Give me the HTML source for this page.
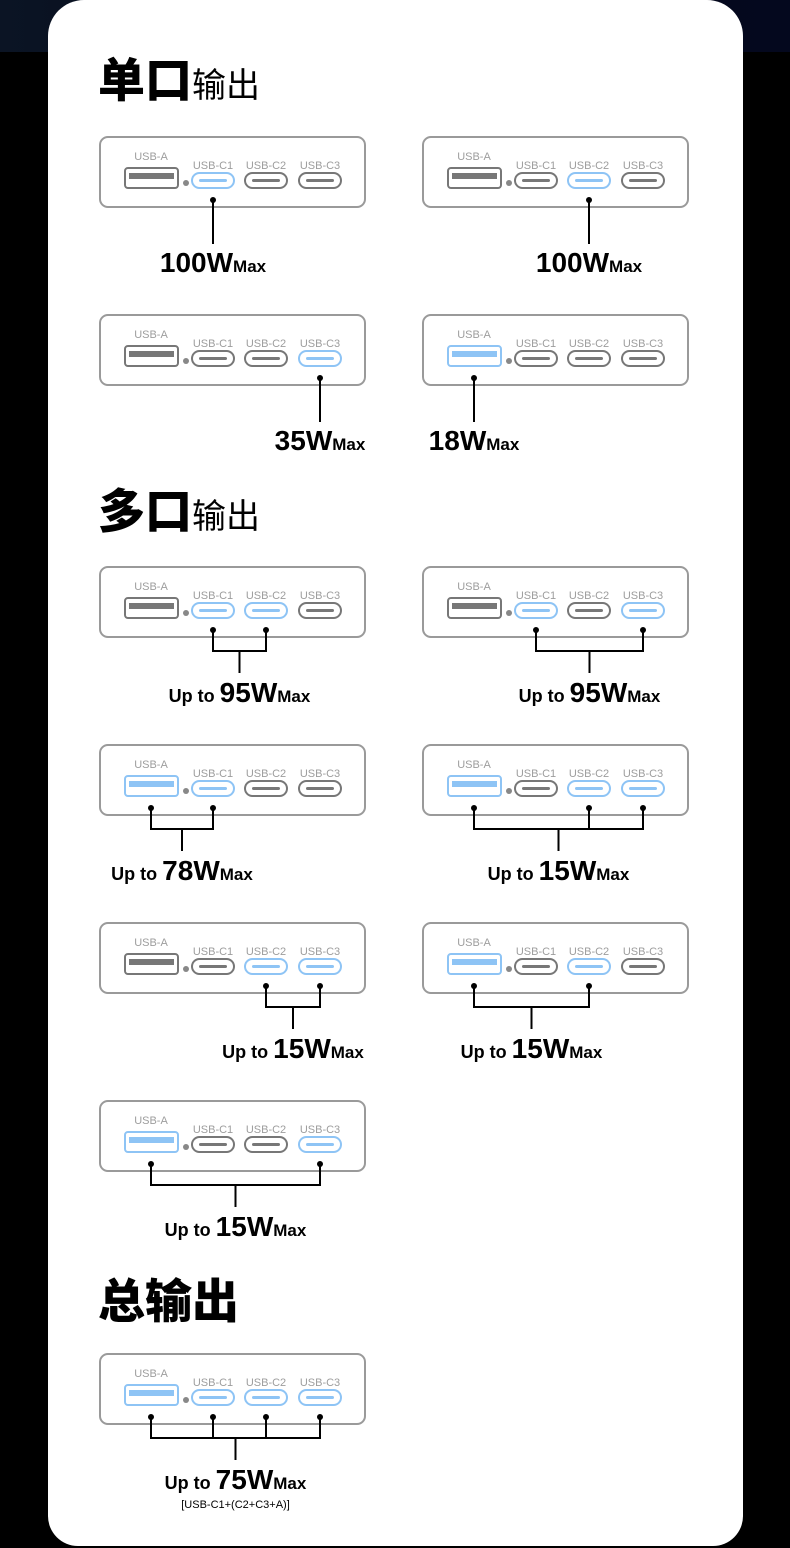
<!DOCTYPE html>
<html><head><meta charset="utf-8">
<style>
html,body{margin:0;padding:0;width:790px;height:1548px;overflow:hidden;background:#000;}
.bg{position:absolute;left:0;top:0;width:790px;height:52px;background:linear-gradient(90deg,#0b1424,#020818 50%,#04081e);}
.card{position:absolute;left:48px;top:0;width:695px;height:1546px;background:#fff;border-radius:36px 36px 30px 30px;}
svg{position:absolute;left:0;top:0;}
.h{font-family:"Liberation Sans","Noto Sans CJK SC",sans-serif;fill:#000;}
</style></head><body>
<div class="bg"></div><div class="card"></div>
<svg id="s" width="790" height="1548" xmlns="http://www.w3.org/2000/svg">
<text class="h" x="98" y="97" font-size="47" font-weight="900">单口<tspan font-size="34" font-weight="400">输出</tspan></text>
<text class="h" x="98" y="528" font-size="47" font-weight="900">多口<tspan font-size="34" font-weight="400">输出</tspan></text>
<text class="h" x="98" y="1318" font-size="47" font-weight="900">总输出</text>
</svg>
<script>
const s=document.getElementById('s');const NS='http://www.w3.org/2000/svg';
function el(t,a,txt){const e=document.createElementNS(NS,t);for(const k in a)e.setAttribute(k,a[k]);if(txt!=null)e.textContent=txt;s.appendChild(e);return e;}
const BL='#8ec4f5',GR='#777';
const PX={A:52,C1:114,C2:167,C3:221};
function box(bx,by,act){
 el('rect',{x:bx+1,y:by+1,width:265,height:70,rx:8,fill:'#fff',stroke:'#9a9a9a','stroke-width':2});
 const f='font-family:"Liberation Sans",sans-serif;font-size:11px;fill:#9d9d9d';
 el('text',{x:bx+52,y:by+24,'text-anchor':'middle',style:f},'USB-A');
 let a=act.includes('A');
 el('rect',{x:bx+26,y:by+32,width:53,height:20,rx:3,fill:'#fff',stroke:a?BL:GR,'stroke-width':2});
 el('rect',{x:bx+30,y:by+37,width:45,height:6,fill:a?BL:GR});
 el('circle',{cx:bx+87,cy:by+47,r:3,fill:'#888'});
 [['C1',93],['C2',146],['C3',200]].forEach(([n,x])=>{
  const on=act.includes(n);
  el('text',{x:bx+x+21,y:by+33,'text-anchor':'middle',style:f},'USB-'+n);
  el('rect',{x:bx+x,y:by+37,width:42,height:15,rx:7.5,fill:'#fff',stroke:on?BL:GR,'stroke-width':2});
  el('rect',{x:bx+x+7,y:by+43,width:28,height:3,rx:1.5,fill:on?BL:GR});
 });
}
function dot(x,y){el('circle',{cx:x,cy:y,r:3,fill:'#000'});}
function line(x1,y1,x2,y2){el('line',{x1,y1,x2,y2,stroke:'#000','stroke-width':2});}
function label(cx,y,up,num){
 const t=el('text',{x:cx,y:y,'text-anchor':'middle',style:'font-family:"Liberation Sans",sans-serif;font-weight:bold;fill:#000'});
 if(up){const a=document.createElementNS(NS,'tspan');a.setAttribute('font-size','18');a.textContent='Up to ';t.appendChild(a);}
 const b=document.createElementNS(NS,'tspan');b.setAttribute('font-size','28');b.textContent=num;t.appendChild(b);
 const c=document.createElementNS(NS,'tspan');c.setAttribute('font-size','17');c.textContent='Max';t.appendChild(c);
}
function single(bx,by,p,num){box(bx,by,[p]);const x=bx+PX[p];dot(x,by+64);line(x,by+64,x,by+108);label(x,by+136,false,num);}
function multi(bx,by,ps,num,sub){box(bx,by,ps);const xs=ps.map(p=>bx+PX[p]);
 xs.forEach(x=>{dot(x,by+64);line(x,by+64,x,by+86);});
 const l=Math.min(...xs),r=Math.max(...xs),c=(l+r)/2;
 line(l-1,by+85,r+1,by+85);line(c,by+85,c,by+107);label(c,by+136,true,num);
 if(sub)el('text',{x:c,y:by+155,'text-anchor':'middle',style:'font-family:"Liberation Sans",sans-serif;font-size:11px;fill:#000'},sub);
}
single(99,136,'C1','100W');single(422,136,'C2','100W');
single(99,314,'C3','35W');single(422,314,'A','18W');
multi(99,566,['C1','C2'],'95W');multi(422,566,['C1','C3'],'95W');
multi(99,744,['A','C1'],'78W');multi(422,744,['A','C2','C3'],'15W');
multi(99,922,['C2','C3'],'15W');multi(422,922,['A','C2'],'15W');
multi(99,1100,['A','C3'],'15W');
multi(99,1353,['A','C1','C2','C3'],'75W','[USB-C1+(C2+C3+A)]');
</script>
</body></html>
